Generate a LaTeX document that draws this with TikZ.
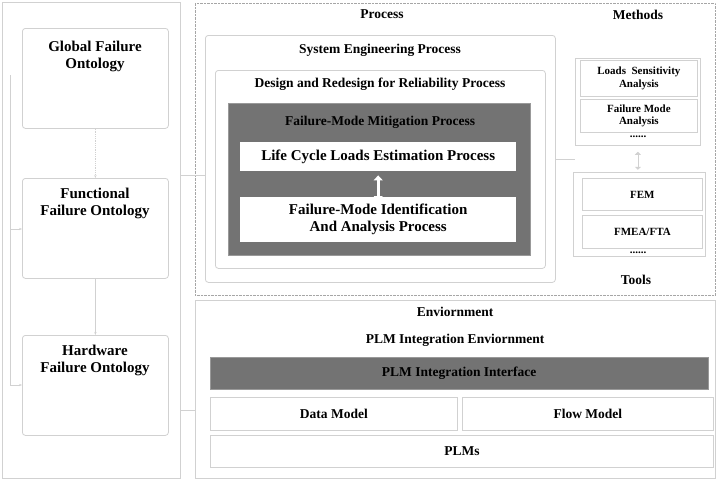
\documentclass[tikz,border=0pt]{standalone}
\usepackage{fontspec}
\setmainfont{Liberation Serif}
\usetikzlibrary{arrows.meta}
\begin{document}
\begin{tikzpicture}[x=1pt,y=-1pt,
  faint/.style={draw=black!18,line width=0.8pt},
  box/.style={faint,rounded corners=3pt},
  lbl/.style={font=\bfseries,align=center},
  big/.style={font=\bfseries\fontsize{15}{17}\selectfont,align=center},
  mid/.style={font=\bfseries\fontsize{13.5}{16}\selectfont,align=center},
  sm/.style={font=\bfseries\fontsize{11}{12.5}\selectfont,align=center}]
\path[use as bounding box,fill=white] (0,0) rectangle (718,480);
% left panel
\draw[faint] (2,2) rectangle (180,478);
\node[box,minimum width=146,minimum height=100,anchor=north west] (glob) at (22,28) {};
\node[big] (globt) at (95,56) {Global Failure\\Ontology};
\node[box,minimum width=146,minimum height=100,anchor=north west] (func) at (22,178) {};
\node[big] (funct) at (95,203) {Functional\\Failure Ontology};
\node[box,minimum width=146,minimum height=100,anchor=north west] (hard) at (22,335) {};
\node[big] (hardt) at (95,360) {Hardware\\Failure Ontology};
\draw[faint,densely dotted,-{Stealth[length=3pt]}] (glob.south) -- (func.north);
\draw[faint,-{Stealth[length=3pt]}] (func.south) -- (hard.north);
\coordinate (lt) at (10,75);
\draw[faint,-{Stealth[length=3pt]}] (lt) -- (10,229) -- (func.west|-0,229);
\draw[faint,-{Stealth[length=3pt]}] (10,229) -- (10,385) -- (hard.west|-0,385);
% process panel
\node[draw=black!35,densely dotted,minimum width=520,minimum height=292,anchor=north west] (proc) at (195,3) {};
\node[mid] (proct) at (382,14) {Process};
\node[mid] (metht) at (638,15) {Methods};
\node[mid] (toolt) at (636,280) {Tools};
\node[box,minimum width=350,minimum height=247,anchor=north west] (sys) at (205,35) {};
\node[mid] (syst) at (380,50) {System Engineering Process};
\node[box,minimum width=330,minimum height=198,anchor=north west] (des) at (215,70) {};
\node[mid] (dest) at (380,84) {Design and Redesign for Reliability Process};
\node[fill=black!55,draw=black!40,minimum width=302,minimum height=152,anchor=north west] (mit) at (228,103) {};
\node[mid] (mitt) at (380,122) {Failure-Mode Mitigation Process};
\node[fill=white,minimum width=276,minimum height=29,anchor=north west,font=\bfseries\fontsize{15}{17}\selectfont] (lc) at (240,142) {};
\node[big] at (lc.center) {Life Cycle Loads Estimation Process};
\node[fill=white,minimum width=276,minimum height=45,anchor=north west] (fmi) at (240,197) {};
\node[big] at (fmi.center) {Failure-Mode Identification\\And Analysis Process};
\draw[{Triangle[length=5pt,width=9pt]}-{Triangle[length=5pt,width=9pt]},white,line width=3pt] (lc.south) ++(0,4) -- ([yshift=-4pt]fmi.north);
% methods
\node[faint,minimum width=125,minimum height=87,anchor=north west] (meth) at (575,58) {};
\node[faint,minimum width=117,minimum height=36,anchor=north west] (lsa) at (580,60) {};
\node[sm] at (lsa.center) {Loads \ Sensitivity\\Analysis};
\node[faint,minimum width=117,minimum height=33,anchor=north west] (fma) at (580,99) {};
\node[sm] at (fma.center) {Failure Mode\\Analysis};
\node[sm] at (638,137) {......};
\draw[faint,{Triangle[length=3pt,width=6pt]}-{Triangle[length=3pt,width=6pt]}] (meth.south) ++(0,6) -- ++(0,18);
\node[faint,minimum width=132,minimum height=84,anchor=north west] (tools) at (573,172) {};
\node[faint,minimum width=120,minimum height=32,anchor=north west] (fem) at (582,178) {};
\node[sm] at (fem.center) {FEM};
\node[faint,minimum width=120,minimum height=33,anchor=north west] (fmea) at (582,215) {};
\node[sm] at (fmea.center) {FMEA/FTA};
\node[sm] at (638,253) {......};
\draw[faint] (sys.east) -- (meth.west|-sys.east);
% environment
\node[faint,minimum width=520,minimum height=178,anchor=north west] (env) at (195,300) {};
\node[mid] (envt) at (455,312) {Enviornment};
\node[mid] (plmt) at (455,340) {PLM Integration Enviornment};
\node[fill=black!55,draw=black!40,minimum width=498,minimum height=32,anchor=north west] (pii) at (210,357) {};
\node[mid] at (pii.center) {PLM Integration Interface};
\node[faint,minimum width=247,minimum height=33,anchor=north west] (dm) at (210,397) {};
\node[mid] at (dm.center) {Data Model};
\node[faint,minimum width=251,minimum height=33,anchor=north west] (fm) at (462,397) {};
\node[mid] at (fm.center) {Flow Model};
\node[faint,minimum width=503,minimum height=32,anchor=north west] (plms) at (210,435) {};
\node[mid] at (plms.center) {PLMs};
% links
\draw[faint] (180,175) -- (sys.west|-0,175);
\draw[faint] (180,410) -- (env.west|-0,410);
\end{tikzpicture}
\end{document}
